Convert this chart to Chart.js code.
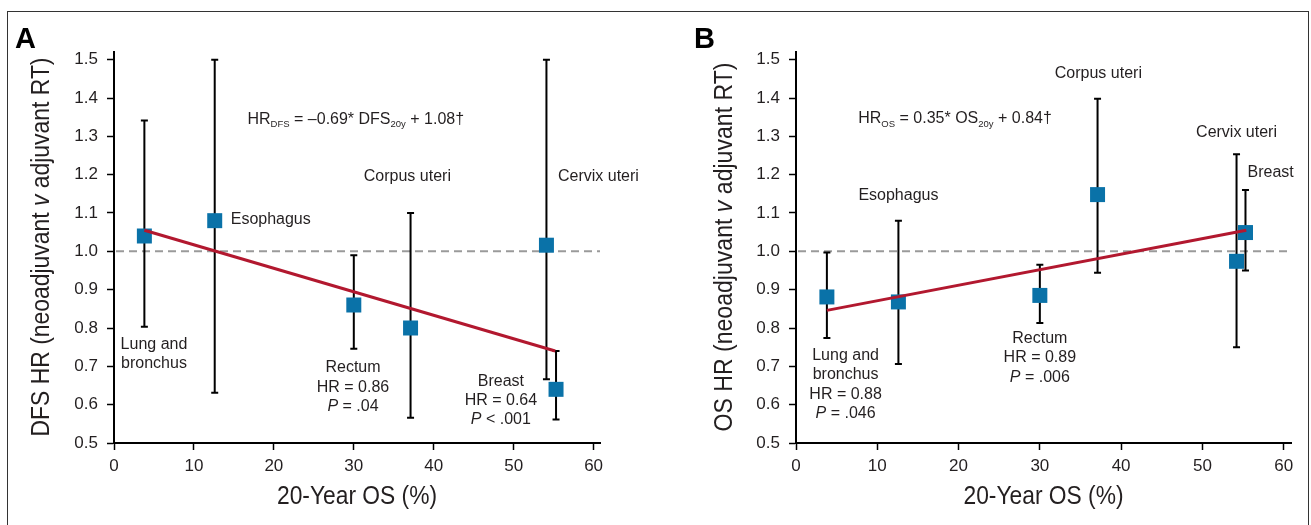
<!DOCTYPE html>
<html>
<head>
<meta charset="utf-8">
<script src="https://cdn.jsdelivr.net/npm/chart.js@4.4.0/dist/chart.umd.min.js"></script>
<style>
body{margin:0;background:#fff;}
#wrap{position:relative;width:1311px;height:525px;overflow:hidden;}
#frame{position:absolute;left:7px;top:11px;width:1300px;height:530px;border:1px solid #333;}
canvas{position:absolute;top:0;}
#cA{left:0;}
#cB{left:655px;}
</style>
</head>
<body>
<div id="wrap">
<div id="frame"></div>
<canvas id="cA" width="655" height="525"></canvas>
<canvas id="cB" width="656" height="525"></canvas>
</div>
<script>
// 20-year OS per site
var sites = ['Lung and bronchus', 'Esophagus', 'Rectum', 'Corpus uteri', 'Cervix uteri', 'Breast'];
var osA = [3.8, 12.6, 30.0, 37.1, 54.1, 55.3];
var osB = [3.8, 12.6, 30.0, 37.1, 54.2, 55.3];

// panel A: DFS HR
var dfsHR   = [1.04, 1.08, 0.86, 0.80, 1.016, 0.64];
var dfsLow  = [0.803, 0.631, 0.746, 0.566, 0.666, 0.561];
var dfsHigh = [1.341, 1.50, 0.99, 1.10, 1.50, 0.74];
var dfsFitX = [3.8, 55.2];
var dfsFitY = [1.055, 0.740];

// panel B: OS HR
var osHR   = [0.881, 0.868, 0.885, 1.148, 0.974, 1.049];
var osLow  = [0.774, 0.706, 0.813, 0.944, 0.750, 0.950];
var osHigh = [0.997, 1.080, 0.965, 1.398, 1.253, 1.160];
var osFitX = [3.8, 55.4];
var osFitY = [0.846, 1.055];

var yMin = 0.5, yMax = 1.52, yStep = 0.1;
var xMin = 0, xStep = 10;

var FONT = "'Liberation Sans', Arial, Helvetica, sans-serif";
var INK = '#231f20';

function segFont(s, size) {
  var st = s.i ? 'italic ' : '';
  var sz = s.sub ? 9.5 : size;
  return st + sz + 'px ' + FONT;
}

function drawRich(ctx, segs, x, y, align, size) {
  segs = segs.map(function(s){ return typeof s === 'string' ? {t: s} : s; });
  var w = segs.map(function(s){ ctx.font = segFont(s, size); return ctx.measureText(s.t).width; });
  var total = w.reduce(function(a, b){ return a + b; }, 0);
  var cx = align === 'center' ? x - total / 2 : x;
  ctx.textAlign = 'left';
  ctx.textBaseline = 'middle';
  segs.forEach(function(s, i){
    ctx.font = segFont(s, size);
    ctx.fillText(s.t, cx, y + (s.sub ? 5 : 0));
    cx += w[i];
  });
}

// condensed title text, squeezed to the length it has in the figure
function drawTitle(ctx, text, x, y, rot, size, len, italicV) {
  ctx.save();
  ctx.translate(x, y);
  ctx.rotate(rot);
  var parts = italicV ? text.split(' v ') : [text];
  var segs = italicV ? [{t: parts[0] + ' '}, {t: 'v', i: true}, {t: ' ' + parts[1]}] : [{t: text}];
  var w = segs.map(function(s){ ctx.font = (s.i ? 'italic ' : '') + size + 'px ' + FONT; return ctx.measureText(s.t).width; });
  var total = w.reduce(function(a, b){ return a + b; }, 0);
  ctx.scale(len / total, 1);
  ctx.fillStyle = INK;
  ctx.textBaseline = 'middle';
  ctx.textAlign = 'left';
  var cx = -total / 2;
  segs.forEach(function(s, i){
    ctx.font = (s.i ? 'italic ' : '') + size + 'px ' + FONT;
    ctx.fillText(s.t, cx, 0);
    cx += w[i];
  });
  ctx.restore();
}

var decor = {
  id: 'decor',
  beforeDatasetsDraw: function(chart, args, o) {
    var ctx = chart.ctx, xs = chart.scales.x, ys = chart.scales.y, ca = chart.chartArea;
    ctx.save();
    // reference line at HR = 1
    ctx.strokeStyle = '#9a9a9a';
    ctx.lineWidth = 2;
    ctx.setLineDash([8, 5]);
    ctx.beginPath();
    ctx.moveTo(xs.getPixelForValue(0) + 2, ys.getPixelForValue(1));
    ctx.lineTo(ca.right, ys.getPixelForValue(1));
    ctx.stroke();
    ctx.setLineDash([]);
    // 95% CI bars
    ctx.strokeStyle = '#000';
    ctx.lineWidth = 2;
    for (var i = 0; i < o.x.length; i++) {
      var px = xs.getPixelForValue(o.x[i]);
      var lo = ys.getPixelForValue(o.low[i]);
      var hi = ys.getPixelForValue(o.high[i]);
      ctx.beginPath();
      ctx.moveTo(px, lo); ctx.lineTo(px, hi);
      ctx.moveTo(px - 3.5, lo); ctx.lineTo(px + 3.5, lo);
      ctx.moveTo(px - 3.5, hi); ctx.lineTo(px + 3.5, hi);
      ctx.stroke();
    }
    ctx.restore();
  },
  afterDraw: function(chart, args, o) {
    var ctx = chart.ctx, xs = chart.scales.x, ys = chart.scales.y, ca = chart.chartArea;
    ctx.save();
    ctx.fillStyle = INK;
    o.notes.forEach(function(n){
      var px = xs.getPixelForValue(n.x);
      var py = ys.getPixelForValue(n.y);
      n.lines.forEach(function(line, k){
        drawRich(ctx, line, px, py + k * 19.3, n.align, 16);
      });
    });
    // panel letter
    ctx.fillStyle = '#000';
    ctx.font = 'bold 29px ' + FONT;
    ctx.textAlign = 'left';
    ctx.textBaseline = 'alphabetic';
    ctx.fillText(o.letter, o.letterX, 48);
    ctx.restore();
    drawTitle(ctx, o.yTitle, o.yTitleX, 247, -Math.PI / 2, 25, o.yTitleLen, true);
    drawTitle(ctx, '20-Year OS (%)', (ca.left + ca.right) / 2, 497, 0, 25.6, 160, false);
  }
};

function makePanel(id, o) {
  var axisCommon = {
    grid: {drawOnChartArea: false, drawTicks: true, tickLength: 7, tickWidth: 1.5, tickColor: '#000'},
    border: {color: '#000', width: 2}
  };
  new Chart(document.getElementById(id), {
    type: 'scatter',
    data: {
      datasets: [
        {
          type: 'line',
          data: o.fitX.map(function(x, i){ return {x: x, y: o.fitY[i]}; }),
          borderColor: '#b2182f',
          borderWidth: 3,
          pointRadius: 0,
          fill: false
        },
        {
          data: o.x.map(function(x, i){ return {x: x, y: o.hr[i]}; }),
          pointStyle: 'rect',
          pointRadius: 10.6,
          pointHoverRadius: 10.6,
          backgroundColor: '#0a72a8',
          borderWidth: 0
        }
      ]
    },
    options: {
      responsive: false,
      animation: false,
      devicePixelRatio: 1,
      events: [],
      layout: {padding: {left: 0, right: o.padRight, top: 52, bottom: 0}},
      plugins: {legend: {display: false}, tooltip: {enabled: false}, decor: o},
      scales: {
        x: Object.assign({
          type: 'linear', min: xMin, max: o.xMax,
          afterFit: function(s){ s.height = 82; },
          ticks: {stepSize: xStep, includeBounds: false, padding: 6, maxRotation: 0, color: INK,
                  font: {family: FONT, size: 17}}
        }, axisCommon),
        y: Object.assign({
          type: 'linear', min: yMin, max: yMax,
          afterFit: function(s){ s.width = o.yw; },
          ticks: {stepSize: yStep, includeBounds: false, padding: 9, color: INK,
                  font: {family: FONT, size: 17},
                  callback: function(v){ return v.toFixed(1); }}
        }, axisCommon)
      }
    },
    plugins: [decor]
  });
}

makePanel('cA', {
  x: osA, hr: dfsHR, low: dfsLow, high: dfsHigh, fitX: dfsFitX, fitY: dfsFitY,
  xMax: 60.8, yw: 114, padRight: 55,
  letter: 'A', letterX: 15,
  yTitle: 'DFS HR (neoadjuvant v adjuvant RT)', yTitleX: 42, yTitleLen: 379,
  notes: [
    {x: 16.7, y: 1.344, align: 'left', lines: [[
      'HR', {t: 'DFS', sub: true}, ' = \u20130.69* DFS', {t: '20y', sub: true}, ' + 1.08\u2020']]},
    {x: 36.7, y: 1.195, align: 'center', lines: [['Corpus uteri']]},
    {x: 60.6, y: 1.195, align: 'center', lines: [['Cervix uteri']]},
    {x: 14.6, y: 1.082, align: 'left', lines: [['Esophagus']]},
    {x: 5.0, y: 0.757, align: 'center', lines: [['Lung and'], ['bronchus']]},
    {x: 29.9, y: 0.696, align: 'center', lines: [['Rectum'], ['HR = 0.86'], [{t: 'P', i: true}, ' = .04']]},
    {x: 48.4, y: 0.661, align: 'center', lines: [['Breast'], ['HR = 0.64'], [{t: 'P', i: true}, ' < .001']]}
  ]
});

makePanel('cB', {
  x: osB, hr: osHR, low: osLow, high: osHigh, fitX: osFitX, fitY: osFitY,
  xMax: 60.9, yw: 141, padRight: 20,
  letter: 'B', letterX: 39,
  yTitle: 'OS HR (neoadjuvant v adjuvant RT)', yTitleX: 70, yTitleLen: 369,
  notes: [
    {x: 7.66, y: 1.345, align: 'left', lines: [[
      'HR', {t: 'OS', sub: true}, ' = 0.35* OS', {t: '20y', sub: true}, ' + 0.84\u2020']]},
    {x: 37.2, y: 1.463, align: 'center', lines: [['Corpus uteri']]},
    {x: 54.2, y: 1.311, align: 'center', lines: [['Cervix uteri']]},
    {x: 58.4, y: 1.206, align: 'center', lines: [['Breast']]},
    {x: 12.6, y: 1.145, align: 'center', lines: [['Esophagus']]},
    {x: 6.1, y: 0.728, align: 'center', lines: [['Lung and'], ['bronchus'], ['HR = 0.88'], [{t: 'P', i: true}, ' = .046']]},
    {x: 30.0, y: 0.772, align: 'center', lines: [['Rectum'], ['HR = 0.89'], [{t: 'P', i: true}, ' = .006']]}
  ]
});
</script>
</body>
</html>
